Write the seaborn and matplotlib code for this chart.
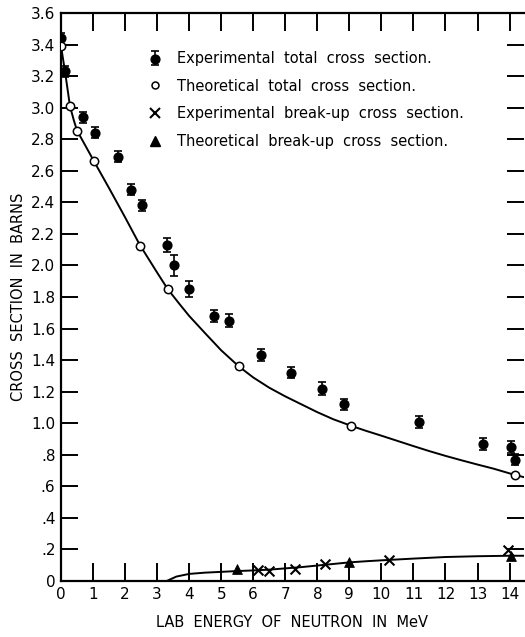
import matplotlib
matplotlib.use("Agg")
import matplotlib.pyplot as plt
import seaborn as sns
from matplotlib.lines import Line2D

# ---------------- data ----------------
exp_total_x = [0.0, 0.12, 0.7, 1.05, 1.78, 2.17, 2.52, 3.3, 3.52, 4.0, 4.77, 5.25,
               6.24, 7.19, 8.16, 8.82, 11.17, 13.17, 14.05, 14.17]
exp_total_y = [3.44, 3.23, 2.94, 2.84, 2.69, 2.48, 2.38, 2.13, 2.00, 1.85, 1.68, 1.65,
               1.43, 1.32, 1.22, 1.12, 1.01, 0.87, 0.85, 0.77]
exp_total_err = [0.035, 0.035, 0.035, 0.035, 0.035, 0.035, 0.035, 0.045, 0.065, 0.05,
                 0.04, 0.04, 0.038, 0.034, 0.042, 0.035, 0.038, 0.038, 0.037, 0.035]

theo_total_x = [0.0, 0.28, 0.5, 1.03, 2.46, 3.33, 5.55, 9.05, 14.17]
theo_total_y = [3.39, 3.01, 2.85, 2.66, 2.125, 1.85, 1.36, 0.984, 0.672]

total_curve_x = [0.0, 0.125, 0.28, 0.4, 0.5, 0.65, 0.8, 1.03, 1.5, 2.0, 2.46, 3.0,
                 3.33, 3.7, 4.0, 4.5, 5.0, 5.55, 6.0, 6.5, 7.0, 7.5, 8.0, 8.5, 9.05,
                 9.5, 10.0, 10.5, 11.0, 11.5, 12.0, 12.5, 13.0, 13.5, 14.17, 14.45]
total_curve_y = [3.39, 3.23, 3.01, 2.92, 2.855, 2.80, 2.745, 2.66, 2.49, 2.305, 2.13,
                 1.955, 1.85, 1.755, 1.68, 1.57, 1.462, 1.36, 1.29, 1.225, 1.17, 1.12,
                 1.07, 1.025, 0.984, 0.953, 0.921, 0.888, 0.855, 0.823, 0.793, 0.765,
                 0.738, 0.712, 0.672, 0.658]

exp_bu_x = [6.15, 6.5, 7.3, 8.25, 10.25, 13.95]
exp_bu_y = [0.07, 0.065, 0.078, 0.108, 0.133, 0.196]

theo_bu_x = [5.5, 9.0, 14.05]
theo_bu_y = [0.074, 0.122, 0.16]

bu_curve_x = [3.3, 3.6, 4.0, 4.5, 5.0, 5.5, 6.0, 6.5, 7.0, 7.5, 8.0, 8.5, 9.0, 9.5,
              10.0, 11.0, 12.0, 13.0, 14.0, 14.45]
bu_curve_y = [0.0, 0.028, 0.045, 0.053, 0.058, 0.063, 0.067, 0.072, 0.08, 0.088,
              0.098, 0.108, 0.118, 0.125, 0.131, 0.142, 0.152, 0.157, 0.16, 0.16]

x_ticks = list(range(0, 15))
x_tick_labels = [str(v) for v in x_ticks]
y_ticks = [0, 0.2, 0.4, 0.6, 0.8, 1.0, 1.2, 1.4, 1.6, 1.8, 2.0, 2.2, 2.4, 2.6, 2.8,
           3.0, 3.2, 3.4, 3.6]
y_tick_labels = ["0", ".2", ".4", ".6", ".8", "1.0", "1.2", "1.4", "1.6", "1.8", "2.0",
                 "2.2", "2.4", "2.6", "2.8", "3.0", "3.2", "3.4", "3.6"]

legend_labels = ["Experimental  total  cross  section.",
                 "Theoretical  total  cross  section.",
                 "Experimental  break-up  cross  section.",
                 "Theoretical  break-up  cross  section."]

# ---------------- figure ----------------
sns.set_theme(style="white")
plt.rcParams["font.family"] = ["DejaVu Sans"]

fig = plt.figure(figsize=(5.25, 6.37), dpi=100)
ax = fig.add_axes([61 / 525, 56 / 637, 463 / 525, 568 / 637])

lw = 1.4
sns.lineplot(x=total_curve_x, y=total_curve_y, color="black", lw=lw, ax=ax,
             estimator=None, sort=False)
sns.lineplot(x=bu_curve_x, y=bu_curve_y, color="black", lw=lw, ax=ax,
             estimator=None, sort=False)

eb = ax.errorbar(exp_total_x, exp_total_y, yerr=exp_total_err, fmt="none",
                 ecolor="black", elinewidth=1.2, capsize=2.6, capthick=1.2, zorder=3)
sc1 = ax.scatter(exp_total_x, exp_total_y, s=40, color="black", zorder=4)
sns.scatterplot(x=theo_total_x, y=theo_total_y, s=36, marker="o", facecolor="white",
                edgecolor="black", linewidth=1.1, ax=ax, zorder=5)
sns.scatterplot(x=exp_bu_x, y=exp_bu_y, s=50, marker="x", color="black",
                linewidth=1.5, ax=ax, zorder=5)
sns.scatterplot(x=theo_bu_x, y=theo_bu_y, s=50, marker="^", color="black",
                edgecolor="black", ax=ax, zorder=5)

ax.set_xlim(0, 14.45)
ax.set_ylim(0, 3.6)

ax.set_xticks(x_ticks)
ax.set_xticklabels(x_tick_labels)
ax.set_yticks(y_ticks)
ax.set_yticklabels(y_tick_labels)
ax.tick_params(axis="both", direction="in", length=13, width=1.4, color="black",
               labelsize=11, labelcolor="black", pad=4)
ax.tick_params(top=True, right=True, bottom=True, left=True)
ax.tick_params(axis="y", length=12)
for side in ["left", "bottom", "top"]:
    ax.spines[side].set_color("black")
    ax.spines[side].set_linewidth(1.6)
ax.spines["right"].set_visible(False)

ax.set_xlabel("LAB  ENERGY  OF  NEUTRON  IN  MeV", fontsize=10.5, color="black",
              labelpad=10)
ax.set_ylabel("CROSS  SECTION  IN  BARNS", fontsize=10.5, color="black", labelpad=4)

# legend
h1 = (eb, sc1)
h2 = Line2D([], [], ls="none", marker="o", markersize=5, markerfacecolor="white",
            markeredgecolor="black", markeredgewidth=1.1)
h3 = Line2D([], [], ls="none", marker="x", markersize=6.5, color="black",
            markeredgewidth=1.5)
h4 = Line2D([], [], ls="none", marker="^", markersize=7, color="black")
leg = ax.legend([h1, h2, h3, h4], legend_labels, loc="upper left",
                bbox_to_anchor=(148 / 525, 1 - 51 / 637), bbox_transform=fig.transFigure,
                frameon=False, fontsize=10.5, handlelength=1.0, handletextpad=1.0,
                labelspacing=0.86, borderpad=0, borderaxespad=0)
for t in leg.get_texts():
    t.set_color("black")

fig.savefig("out.png", dpi=100)
